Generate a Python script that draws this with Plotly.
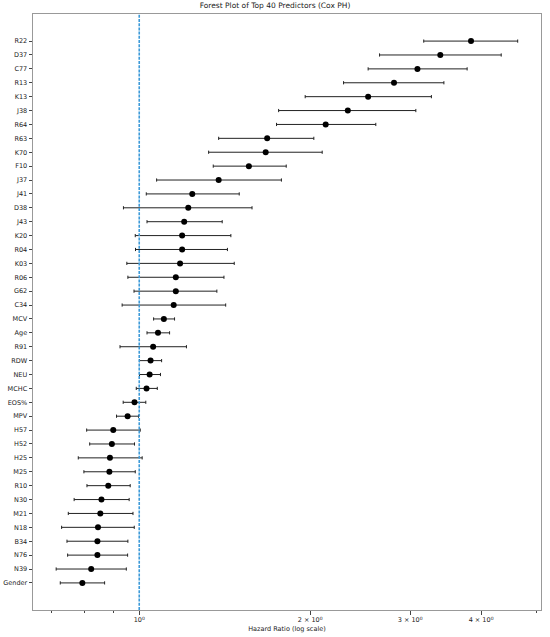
import plotly.graph_objects as go
import numpy as np

# predictors, top to bottom as in the picture
names = ["R22", "D37", "C77", "R13", "K13", "J38", "R64", "R63", "K70", "F10",
         "J37", "J41", "D38", "J43", "K20", "R04", "K03", "R06", "G62", "C34",
         "MCV", "Age", "R91", "RDW", "NEU", "MCHC", "EOS%", "MPV", "H57", "H52",
         "H25", "M25", "R10", "N30", "M21", "N18", "B34", "N76", "N39", "Gender"]
hr = [3.84, 3.39, 3.09, 2.81, 2.53, 2.33, 2.13, 1.68, 1.67, 1.56,
      1.38, 1.24, 1.22, 1.20, 1.19, 1.19, 1.18, 1.16, 1.16, 1.15,
      1.105, 1.079, 1.058, 1.047, 1.043, 1.030, 0.981, 0.954, 0.900, 0.895,
      0.888, 0.886, 0.882, 0.858, 0.854, 0.846, 0.844, 0.844, 0.823, 0.794]
ci_low = [3.17, 2.65, 2.53, 2.29, 1.96, 1.76, 1.745, 1.38, 1.325, 1.35,
          1.073, 1.029, 0.938, 1.032, 0.984, 0.985, 0.951, 0.955, 0.979, 0.933,
          1.060, 1.032, 0.925, 1.001, 1.001, 0.988, 0.937, 0.912, 0.808, 0.818,
          0.781, 0.799, 0.809, 0.768, 0.750, 0.730, 0.746, 0.748, 0.714, 0.726]
ci_high = [4.64, 4.34, 3.78, 3.44, 3.27, 3.07, 2.61, 2.03, 2.10, 1.815,
           1.78, 1.50, 1.58, 1.40, 1.45, 1.43, 1.47, 1.41, 1.37, 1.42,
           1.154, 1.131, 1.211, 1.095, 1.090, 1.076, 1.027, 0.997, 1.004, 0.981,
           1.012, 0.984, 0.964, 0.960, 0.975, 0.980, 0.955, 0.954, 0.949, 0.869]

hr = np.array(hr)
ci_low = np.array(ci_low)
ci_high = np.array(ci_high)

fig = go.Figure()
fig.add_trace(go.Scatter(
    x=hr, y=names, mode="markers",
    marker=dict(color="black", size=6),
    error_x=dict(type="data", symmetric=False,
                 array=ci_high - hr, arrayminus=hr - ci_low,
                 color="#222222", thickness=1, width=1.6),
    showlegend=False,
))

# reference line at HR = 1
fig.add_shape(type="line", xref="x", yref="paper", x0=1, x1=1, y0=0, y1=1,
              line=dict(color="#3d9ad8", width=1.6, dash="3px,1.2px"))

fig.update_layout(
    width=550, height=637,
    margin=dict(l=33, r=9, t=14, b=27),
    paper_bgcolor="white", plot_bgcolor="white",
    font=dict(family="DejaVu Sans", size=7, color="#222222"),
    title=dict(text="Forest Plot of Top 40 Predictors (Cox PH)",
               x=0.5, xanchor="center", y=1 - 3 / 637, yanchor="top",
               font=dict(size=7.5, color="#222222")),
)
fig.update_xaxes(
    type="log", range=[np.log10(0.65), np.log10(5.1)], automargin=False,
    tickvals=[1, 2, 3, 4],
    ticktext=["10<sup>0</sup>", "2 × 10<sup>0</sup>", "3 × 10<sup>0</sup>", "4 × 10<sup>0</sup>"],
    ticks="outside", ticklen=3.5, tickcolor="#444",
    minor=dict(tickvals=[0.7, 0.8, 0.9, 5], ticks="outside", ticklen=2, tickcolor="#444"),
    showgrid=False, zeroline=False,
    showline=True, linecolor="#999", linewidth=1, mirror=True,
    title=dict(text="Hazard Ratio (log scale)", font=dict(size=6.5, color="#222222"), standoff=3),
    tickfont=dict(size=6.5, color="#222222"),
)
fig.update_yaxes(
    type="category", categoryorder="array", categoryarray=names[::-1],
    range=[-1.95, len(names) - 1 + 1.95], automargin=False,
    ticks="outside", ticklen=3.5, tickcolor="#444",
    showgrid=False, zeroline=False,
    showline=True, linecolor="#999", linewidth=1, mirror=True,
    tickfont=dict(size=6.5, color="#222222"),
)

# page body has a default 8px margin; drop it so the figure sits at the window corner
fig.write_html("out.html", config={"displayModeBar": False},
               post_script="document.body.style.margin='0';")
